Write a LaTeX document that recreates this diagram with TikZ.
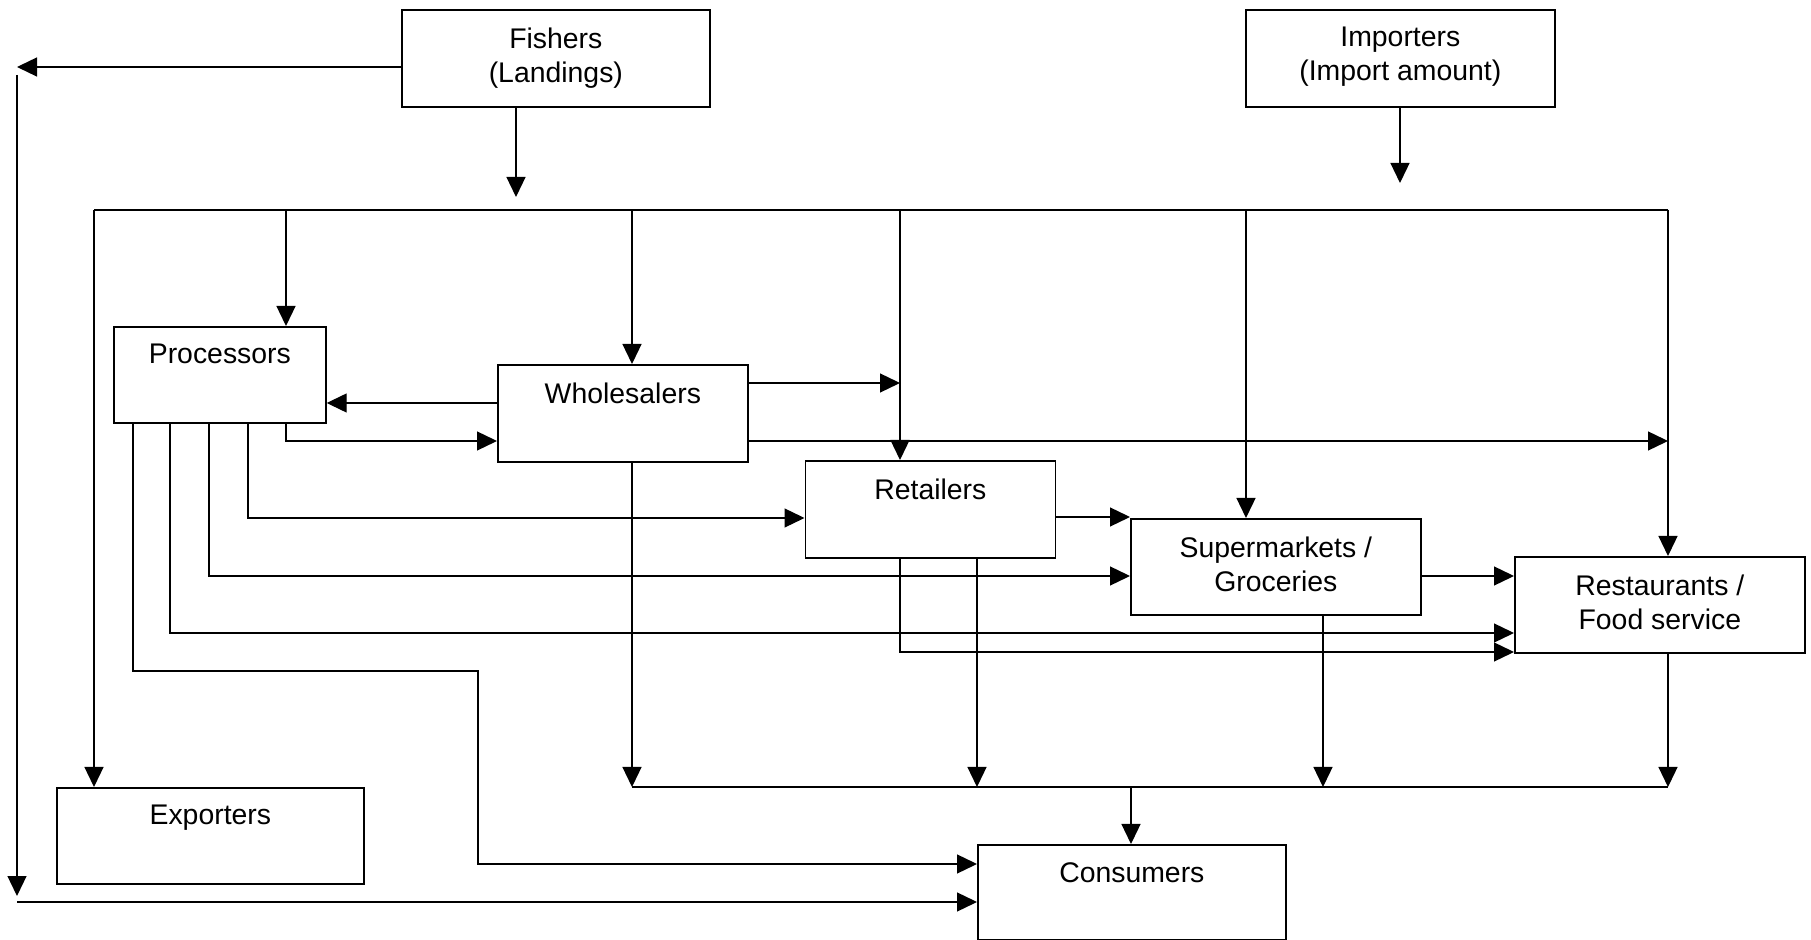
\documentclass[tikz,border=0pt]{standalone}
\usepackage{fontspec}
\setmainfont{Liberation Sans}
\usetikzlibrary{arrows.meta}
\newcommand\boxtext[3]{\parbox[t][#2][t]{#1}{\vspace*{8.8pt}\centering #3\par}}
\begin{document}
\begin{tikzpicture}[x=0.5pt,y=-0.5pt,
  box/.style={draw, line width=0.85pt, inner sep=0pt, anchor=north west},
  conn/.style={line width=0.65pt},
  arr/.style={conn, -{Triangle[length=10pt,width=9.5pt]}},
  font=\fontsize{14.2}{17}\selectfont]
\useasboundingbox (0,0) rectangle (1811,940);

% boxes
\node[box] (fish)  at (401,9)    {\boxtext{154pt}{48.5pt}{Fishers\\(Landings)}};
\node[box] (imp)   at (1245,9)   {\boxtext{154.5pt}{48.5pt}{Importers\\(Import amount)}};
\node[box] (proc)  at (113,326)  {\boxtext{106pt}{48pt}{Processors}};
\node[box] (whole) at (497,364)  {\boxtext{125pt}{48.5pt}{Wholesalers}};
\node[box] (ret)   at (804.5,460){\boxtext{125pt}{48.5pt}{Retailers}};
\node[box] (sup)   at (1130,518) {\boxtext{145pt}{48pt}{Supermarkets /\\Groceries}};
\node[box] (rest)  at (1514,556) {\boxtext{145pt}{48pt}{Restaurants /\\Food service}};
\node[box] (exp)   at (56,787)   {\boxtext{153.5pt}{48pt}{Exporters}};
\node[box] (cons)  at (977,844)  {\boxtext{154pt}{47.5pt}{Consumers}};

% fishers to the far left line
\coordinate (fishL) at (17,67);
\draw[arr] (fish.west |- fishL) -- (fishL);
\coordinate (leftTop) at (17,75);
\coordinate (leftBot) at (17,896);
\draw[arr] (leftTop) -- (leftBot);
\coordinate (botL) at (17,902);
\draw[arr] (botL) -- (cons.west |- botL);

% fishers and importers down
\coordinate (fishD) at (516,197);
\draw[arr] (fish.south -| fishD) -- (fishD);
\coordinate (impD) at (1400,183);
\draw[arr] (imp.south -| impD) -- (impD);

% top bus
\coordinate (busL) at (94,210);
\coordinate (busR) at (1668,210);
\draw[conn] (busL) -- (busR);
\draw[arr] (busL) -- (exp.north -| busL);
\draw[arr] (busR) -- (rest.north -| busR);
\coordinate (bP) at (286,210);
\coordinate (bW) at (632,210);
\coordinate (bR) at (900,210);
\coordinate (bS) at (1246,210);
\draw[arr] (bP) -- (proc.north -| bP);
\draw[arr] (bW) -- (whole.north -| bW);
\draw[arr] (bR) -- (ret.north -| bR);
\draw[arr] (bS) -- (sup.north -| bS);

% wholesalers <-> processors
\coordinate (wp) at (0,403);
\draw[arr] (whole.west |- wp) -- (proc.east |- wp);
\coordinate (pw) at (286,441);
\draw[arr] (proc.south -| pw) -- (pw) -- (whole.west |- pw);

% wholesalers to the right
\coordinate (wr) at (900,383);
\draw[arr] (whole.east |- wr) -- (wr);
\coordinate (wrs) at (1668,441);
\draw[arr] (whole.east |- wrs) -- (wrs);

% processors outputs
\coordinate (p1) at (248,518);
\draw[arr] (proc.south -| p1) -- (p1) -- (ret.west |- p1);
\coordinate (p2) at (209,576);
\draw[arr] (proc.south -| p2) -- (p2) -- (sup.west |- p2);
\coordinate (p3) at (170,633);
\draw[arr] (proc.south -| p3) -- (p3) -- (rest.west |- p3);
\coordinate (p4) at (133,671);
\coordinate (p4a) at (478,671);
\coordinate (p4b) at (478,864);
\draw[arr] (proc.south -| p4) -- (p4) -- (p4a) -- (p4b) -- (cons.west |- p4b);

% retailers / supermarkets / restaurants
\coordinate (rs) at (0,517);
\draw[arr] (ret.east |- rs) -- (sup.west |- rs);
\coordinate (sr) at (0,576);
\draw[arr] (sup.east |- sr) -- (rest.west |- sr);
\coordinate (rr) at (900,652);
\draw[arr] (ret.south -| rr) -- (rr) -- (rest.west |- rr);

% bottom bus
\coordinate (bbL) at (632,787);
\coordinate (bbR) at (1668,787);
\coordinate (bbRet) at (977,787);
\coordinate (bbSup) at (1323,787);
\coordinate (bbC) at (1131,787);
\draw[conn] (bbL) -- (bbR);
\draw[arr] (whole.south -| bbL) -- (bbL);
\draw[arr] (ret.south -| bbRet) -- (bbRet);
\draw[arr] (sup.south -| bbSup) -- (bbSup);
\draw[arr] (rest.south -| bbR) -- (bbR);
\draw[arr] (bbC) -- (cons.north -| bbC);
\end{tikzpicture}
\end{document}
